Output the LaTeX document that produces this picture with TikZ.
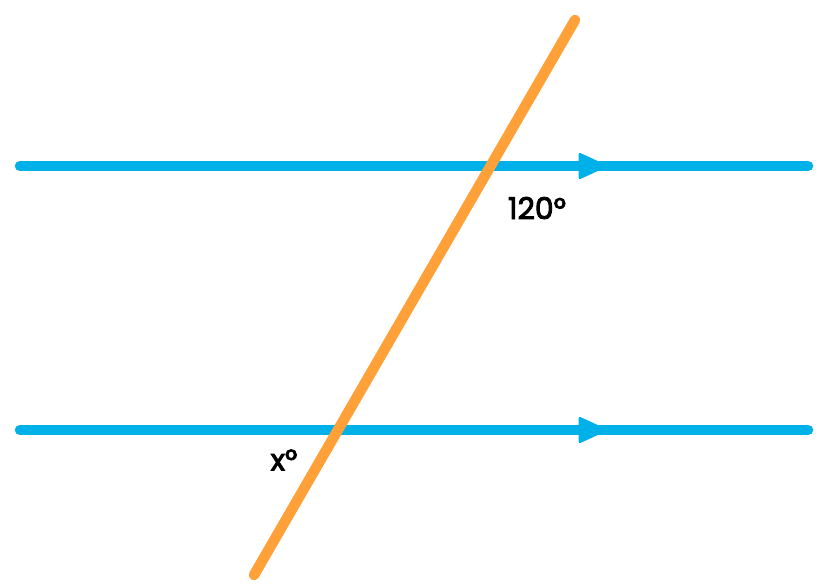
\documentclass[tikz,border=0pt]{standalone}
\usepackage{fontspec}
\setmainfont{Poppins}
\newfontfamily\labelfont{Poppins}[FakeBold=3]
\definecolor{lineblue}{RGB}{0,176,232}
\definecolor{transorange}{RGB}{255,160,56}
\tikzset{
  parallel/.style={lineblue, line width=10.5pt, line cap=round},
  marker/.style={fill=lineblue, draw=lineblue, line width=3pt, line join=round},
  transversal/.style={transorange, line width=10.5pt, line cap=round},
  anglelabel/.style={inner sep=0pt, font=\labelfont\fontsize{30}{30}\selectfont}
}
\begin{document}
\begin{tikzpicture}[x=1pt,y=-1pt]
\useasboundingbox (0,0) rectangle (824,587);
% the two parallel lines with their arrow marks
\foreach \y/\name in {166/top,430/bot}{
  \coordinate (\name L) at (20,\y);
  \coordinate (\name R) at (808,\y);
  \draw[parallel] (\name L) -- (\name R);
  \draw[marker] (580,\y-11.5) -- (605,\y) -- (580,\y+11.5) -- cycle;
}
% transversal
\coordinate (tA) at (254,575);
\coordinate (tB) at (575,20);
\draw[transversal] (tA) -- (tB);
\node[anglelabel] (big) at (537,208) {120°};
\node[anglelabel] (small) at (284,460) {x°};
\end{tikzpicture}
\end{document}
